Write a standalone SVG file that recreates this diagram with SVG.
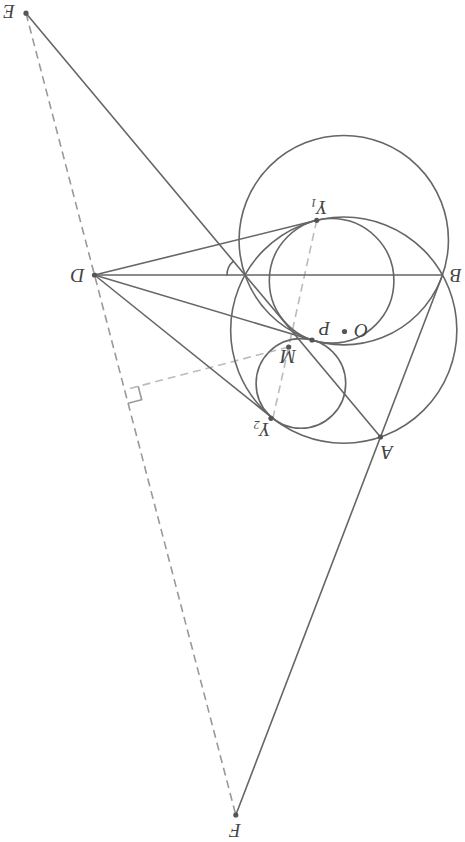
<svg xmlns="http://www.w3.org/2000/svg" width="465" height="842" viewBox="0 0 465 842">
<style>
.ln{stroke:#666;stroke-width:1.6;fill:none;stroke-linecap:round}
.dash{stroke:#999;stroke-width:1.6;fill:none;stroke-dasharray:8 5}
.dash2{stroke:#bbb;stroke-width:1.6;fill:none;stroke-dasharray:8 5}
.pt{fill:#555}
.lb{font-family:"Liberation Serif",serif;font-style:italic;font-size:19px;fill:#444}
</style>
<rect width="465" height="842" fill="#fff"/>
<g id="connectors">
<line class="dash" x1="26" y1="13.2" x2="235.8" y2="815"/>
<line class="dash2" x1="316.7" y1="220.3" x2="272.9" y2="418.3"/>
<line class="dash2" x1="288.7" y1="347" x2="124.7" y2="389.8"/>
<polyline class="dash" style="stroke-dasharray:none" points="138.2,386.3 141.7,399.8 128.2,403.3"/>
<line class="ln" x1="26" y1="13.2" x2="380.5" y2="437"/>
<line class="ln" x1="442.5" y1="275" x2="235.8" y2="815"/>
<line class="ln" x1="94.5" y1="275" x2="442.5" y2="275"/>
<line class="ln" x1="94.5" y1="275" x2="316.7" y2="220.3"/>
<line class="ln" x1="94.5" y1="275" x2="272.9" y2="418.3"/>
<line class="ln" x1="94.5" y1="275" x2="312" y2="340"/>
<path class="ln" d="M227,275 A18,18 0 0 1 233.5,261.2"/>
</g>
<g id="circumcircle"><circle class="ln" cx="343.75" cy="330.1" r="113.1"/></g>
<g id="circleBCP"><circle class="ln" cx="343.75" cy="240.2" r="104.7"/></g>
<g id="circleY1"><circle class="ln" cx="331.6" cy="280.8" r="62.3"/></g>
<g id="circleY2"><circle class="ln" cx="300.9" cy="383.4" r="44.8"/></g>
<g id="E"><circle class="pt" cx="26" cy="13.2" r="2.6"/><text class="lb" x="9" y="11" transform="rotate(180 9 11)" text-anchor="middle" dominant-baseline="central">E</text></g>
<g id="D"><circle class="pt" cx="94.5" cy="275" r="2.6"/><text class="lb" x="77.5" y="275" transform="rotate(180 77.5 275)" text-anchor="middle" dominant-baseline="central">D</text></g>
<g id="B"><text class="lb" x="456" y="275.5" transform="rotate(180 456 275.5)" text-anchor="middle" dominant-baseline="central">B</text></g>
<g id="Y1"><circle class="pt" cx="316.7" cy="220.3" r="2.6"/><text class="lb" x="319" y="207" transform="rotate(180 319 207)" text-anchor="middle" dominant-baseline="central">Y<tspan font-size="12" dy="4">1</tspan></text></g>
<g id="P"><circle class="pt" cx="312" cy="340" r="2.6"/><text class="lb" x="324.5" y="328" transform="rotate(180 324.5 328)" text-anchor="middle" dominant-baseline="central">P</text></g>
<g id="O"><circle class="pt" cx="344.5" cy="331.5" r="2.6"/><text class="lb" x="361" y="330" transform="rotate(180 361 330)" text-anchor="middle" dominant-baseline="central">O</text></g>
<g id="M"><circle class="pt" cx="288.7" cy="347" r="2.6"/><text class="lb" x="288" y="356" transform="rotate(180 288 356)" text-anchor="middle" dominant-baseline="central">M</text></g>
<g id="Y2"><circle class="pt" cx="271" cy="418.3" r="2.6"/><text class="lb" x="262" y="429" transform="rotate(180 262 429)" text-anchor="middle" dominant-baseline="central">Y<tspan font-size="12" dy="4">2</tspan></text></g>
<g id="A"><circle class="pt" cx="380.5" cy="437" r="2.6"/><text class="lb" x="387" y="452" transform="rotate(180 387 452)" text-anchor="middle" dominant-baseline="central">A</text></g>
<g id="F"><circle class="pt" cx="235.8" cy="815" r="2.6"/><text class="lb" x="235" y="830" transform="rotate(180 235 830)" text-anchor="middle" dominant-baseline="central">F</text></g>
</svg>
